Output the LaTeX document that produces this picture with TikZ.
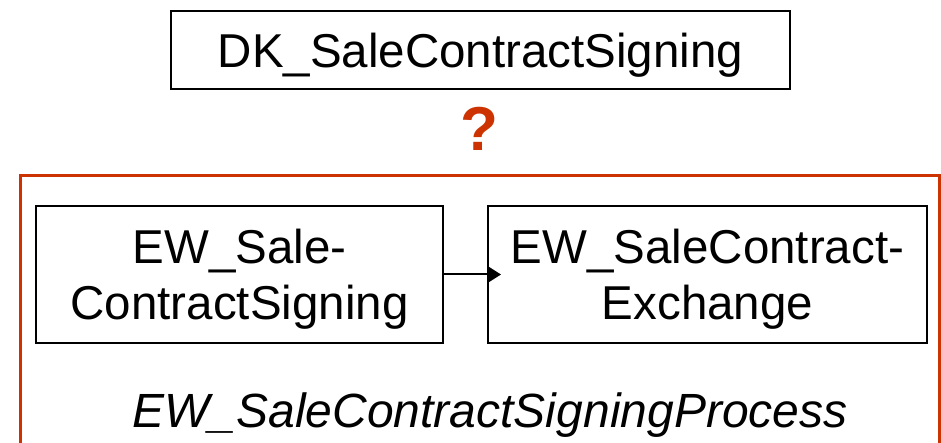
\documentclass[tikz,border=0pt]{standalone}
\usepackage{fontspec}
\setmainfont{Liberation Sans}
\usetikzlibrary{arrows.meta}
\definecolor{frameorange}{RGB}{204,51,0}
\tikzset{
  concept/.style={draw=black, line width=2pt, inner sep=0pt, align=center,
    text depth=0pt, font=\fontsize{47.5}{56}\selectfont},
  link/.style={line width=2pt, -{Triangle[length=13pt,width=16pt]}},
}
\begin{document}
\begin{tikzpicture}[x=1pt, y=-1pt]
  \useasboundingbox (0,0) rectangle (941,443);
  \clip (0,0) rectangle (941,443);

  % domain concept on top
  \node[concept, minimum width=619pt, minimum height=78pt] (dk) at (480.5,50)
    {DK\_SaleContractSigning};

  % open question between the two levels
  \node[text=frameorange, font=\fontsize{62}{62}\bfseries\selectfont, inner sep=0pt]
    (q) at (479,128.5) {?};

  % enclosing process frame (runs past the lower edge)
  \draw[frameorange, line width=3pt] (20,176) rectangle (939.5,470);

  % process steps
  \node[concept, minimum width=407pt, minimum height=137pt] (signing) at (239.5,274.5)
    {EW\_Sale-\\ContractSigning};
  \node[concept, minimum width=439pt, minimum height=137pt] (exchange) at (707.5,274.5)
    {EW\_SaleContract-\\Exchange};
  \coordinate (tip) at ([xshift=14pt]exchange.west |- signing.east);
  \draw[link] (signing.east) -- (tip);

  % process name
  \node[anchor=base, inner sep=0pt, font=\fontsize{48}{56}\itshape\selectfont]
    (proc) at (490,427) {EW\_SaleContractSigningProcess};
\end{tikzpicture}
\end{document}
